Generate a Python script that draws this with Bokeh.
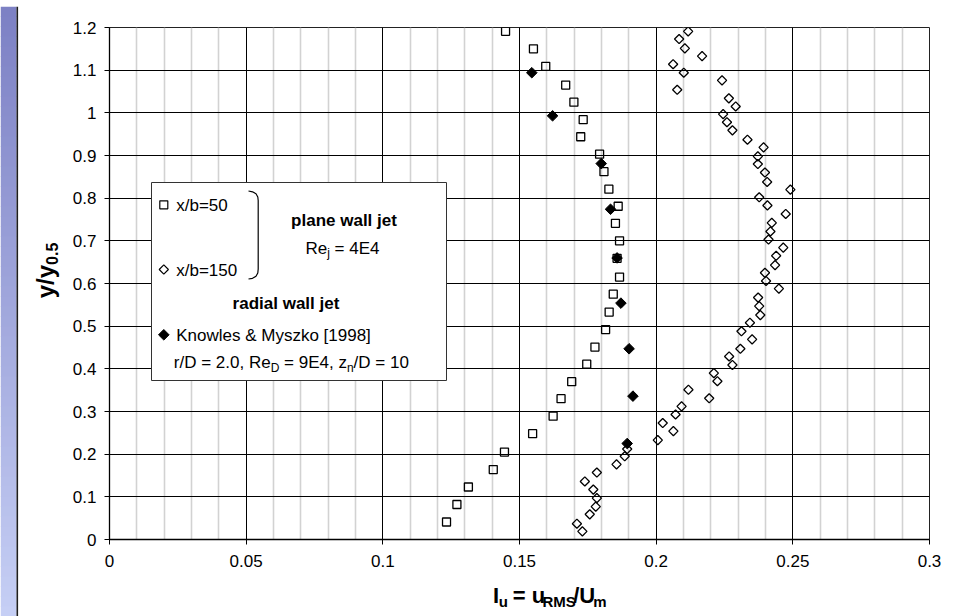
import numpy as np
from bokeh.plotting import figure
from bokeh.models import FixedTicker, Label, Range1d, NumeralTickFormatter
from bokeh.layouts import row, column
from bokeh.embed import file_html
from bokeh.resources import INLINE
from bokeh.core.properties import value

# ---------------- data ----------------
xb50_x = [0.1449, 0.1551, 0.1596, 0.1669, 0.1699, 0.1733, 0.1724, 0.1793, 0.1809, 0.1827,
          0.1861, 0.1851, 0.1866, 0.1857, 0.1866, 0.1843, 0.1828, 0.1815, 0.1776, 0.1746,
          0.1691, 0.1652, 0.1623, 0.1548, 0.1445, 0.1404, 0.1313, 0.1271, 0.1233]
xb50_y = [1.191, 1.150, 1.109, 1.065, 1.025, 0.984, 0.944, 0.903, 0.862, 0.821,
          0.781, 0.741, 0.700, 0.659, 0.615, 0.575, 0.533, 0.492, 0.451, 0.411,
          0.370, 0.330, 0.289, 0.248, 0.205, 0.164, 0.123, 0.082, 0.041]

xb150_x = [0.2117, 0.2084, 0.2105, 0.2168, 0.2062, 0.2101, 0.2241, 0.2077, 0.2266, 0.2291,
           0.2245, 0.2259, 0.2279, 0.2334, 0.2393, 0.2372, 0.2372, 0.2398, 0.2406, 0.2491,
           0.2377, 0.2407, 0.2474, 0.2423, 0.2418, 0.2411, 0.2465, 0.2439, 0.2435, 0.2398,
           0.2402, 0.2449, 0.2373, 0.2377, 0.2381, 0.2343, 0.2312, 0.2351, 0.2308, 0.2267,
           0.2279, 0.2211, 0.2224, 0.2118, 0.2194, 0.2093, 0.2071, 0.2024, 0.2063, 0.2006,
           0.1894, 0.1885, 0.1855, 0.1783, 0.1739, 0.1770, 0.1783, 0.1779, 0.1757, 0.1710,
           0.1730]
xb150_y = [1.191, 1.173, 1.151, 1.133, 1.114, 1.094, 1.076, 1.054, 1.034, 1.015,
           0.997, 0.978, 0.959, 0.937, 0.919, 0.898, 0.880, 0.860, 0.838, 0.820,
           0.802, 0.783, 0.763, 0.742, 0.722, 0.703, 0.684, 0.665, 0.643, 0.625,
           0.606, 0.588, 0.567, 0.547, 0.526, 0.508, 0.488, 0.469, 0.447, 0.429,
           0.409, 0.390, 0.371, 0.351, 0.331, 0.312, 0.293, 0.273, 0.254, 0.233,
           0.212, 0.195, 0.176, 0.157, 0.136, 0.117, 0.097, 0.077, 0.059, 0.037,
           0.019]

knowles_x = [0.1545, 0.1621, 0.1799, 0.1833, 0.1857, 0.1871, 0.1901, 0.1915, 0.1894]
knowles_y = [1.094, 0.993, 0.881, 0.774, 0.660, 0.554, 0.447, 0.336, 0.225]

x_ticks = [0, 0.05, 0.1, 0.15, 0.2, 0.25, 0.3]
x_tick_labels = ["0", "0.05", "0.1", "0.15", "0.2", "0.25", "0.3"]
x_minor_ticks = [0.01, 0.02, 0.03, 0.04, 0.06, 0.07, 0.08, 0.09, 0.11, 0.12, 0.13, 0.14,
                 0.16, 0.17, 0.18, 0.19, 0.21, 0.22, 0.23, 0.24, 0.26, 0.27, 0.28, 0.29]
y_ticks = [0, 0.1, 0.2, 0.3, 0.4, 0.5, 0.6, 0.7, 0.8, 0.9, 1.0, 1.1, 1.2]
y_tick_labels = ["0", "0.1", "0.2", "0.3", "0.4", "0.5", "0.6", "0.7", "0.8", "0.9", "1", "1.1", "1.2"]

legend_x50 = "x/b=50"
legend_x150 = "x/b=150"
legend_plane = "plane wall jet"
legend_radial = "radial wall jet"
legend_knowles = "Knowles & Myszko [1998]"
legend_re_parts = [("Re", False), ("j", True), (" = 4E4", False)]
legend_cond_parts = [("r/D = 2.0, Re", False), ("D", True), (" = 9E4, z", False),
                     ("n", True), ("/D = 10", False)]
x_title_parts = [("I", False), ("u", True), (" = u", False), ("RMS", True), ("/U", False), ("m", True)]
y_title_parts = [("y/y", False), ("0.5", True)]

# ---------------- layout (page pixels, origin top-left) ----------------
FONT = "Liberation Sans"
X_RANGE = (0, 0.3)
Y_RANGE = (0, 1.2)
TOTAL_W, TOTAL_H = 953, 616
TOP_H = 6                       # purple bar + black border on top
LEFT_W = 60                     # purple strip + y title
P_X0, P_Y0 = LEFT_W, TOP_H      # page position of main figure
P_W = TOTAL_W - LEFT_W
P_H = 569
XT_Y0 = P_Y0 + P_H
XT_H = TOTAL_H - XT_Y0
FRAME_PX_L, FRAME_PX_T = 109, 27
FRAME_W, FRAME_H = 820, 512
B_L = FRAME_PX_L - P_X0
B_T = FRAME_PX_T - P_Y0
B_R = P_W - B_L - FRAME_W
B_B = P_H - B_T - FRAME_H


def sx(px):
    return X_RANGE[0] + (px - FRAME_PX_L) / FRAME_W * (X_RANGE[1] - X_RANGE[0])


def sy(py):
    return Y_RANGE[1] - (py - FRAME_PX_T) / FRAME_H * (Y_RANGE[1] - Y_RANGE[0])


REG_W = {'r': 333, '/': 278, 'D': 722, ' ': 278, '=': 584, '2': 556, '.': 278, '0': 556,
         ',': 278, 'R': 722, 'e': 556, '9': 556, 'E': 667, '4': 556, 'z': 500, 'n': 556,
         '1': 556, 'j': 222}
BOLD_W = {'I': 278, 'u': 611, ' ': 278, '=': 584, 'R': 722, 'M': 833, 'S': 667, '/': 278,
          'U': 722, 'm': 889, 'y': 556, '0': 556, '.': 278, '5': 556}


def tw(text, size, bold):
    table = BOLD_W if bold else REG_W
    return sum(table.get(c, 556) for c in text) * size / 1000.0


def rich(px, parts, size, subsize, bold, draw):
    x = px
    for txt, sub in parts:
        s = subsize if sub else size
        lead = len(txt) - len(txt.lstrip(" "))
        draw(x + tw(" " * lead, s, bold), txt.strip(" "), s, sub)
        x += tw(txt, s, bold)
    return x - px


def helper_fig(w, h):
    f = figure(width=w, height=h, x_range=Range1d(0, w), y_range=Range1d(0, h),
               output_backend="svg", toolbar_location=None,
               x_axis_location=None, y_axis_location=None,
               min_border=0, min_border_left=0, min_border_right=0,
               min_border_top=0, min_border_bottom=0)
    f.outline_line_color = None
    f.background_fill_color = "white"
    f.border_fill_color = "white"
    f.grid.visible = False
    return f


PURPLE_TOP = np.array([124, 128, 196])
PURPLE_BOT = np.array([198, 207, 245])
EDGE = "#1e1e1e"

# ---------------- main figure ----------------
p = figure(width=P_W, height=P_H, x_range=X_RANGE, y_range=Y_RANGE,
           output_backend="svg", toolbar_location=None,
           min_border_left=B_L, min_border_right=B_R, min_border_top=B_T, min_border_bottom=B_B)
p.background_fill_color = "white"
p.border_fill_color = "white"
p.outline_line_color = "#222222"
p.outline_line_width = 1

p.xaxis.ticker = FixedTicker(ticks=x_ticks, minor_ticks=x_minor_ticks)
p.yaxis.ticker = FixedTicker(ticks=y_ticks, minor_ticks=[])
p.xaxis.formatter = NumeralTickFormatter(format="0.[00]")
p.yaxis.formatter = NumeralTickFormatter(format="0.[0]")
p.xaxis.major_label_overrides = dict(zip(x_ticks, x_tick_labels))
p.yaxis.major_label_overrides = dict(zip(y_ticks, y_tick_labels))
for ax in (p.xaxis, p.yaxis):
    ax.axis_line_color = "black"
    ax.axis_line_width = 1.3
    ax.major_tick_line_color = "black"
    ax.major_tick_out = 5
    ax.major_tick_in = 0
    ax.minor_tick_line_color = None
    ax.major_label_text_font = FONT
    ax.major_label_text_font_size = "17px"
    ax.major_label_text_color = "black"
p.xaxis.major_label_standoff = 10
p.yaxis.major_label_standoff = 8

p.xgrid.grid_line_color = "black"
p.xgrid.grid_line_width = 1
p.xgrid.minor_grid_line_color = "#d2d2d2"
p.xgrid.minor_grid_line_width = 1.6
p.ygrid.grid_line_color = "black"
p.ygrid.grid_line_width = 1

# series
p.scatter(xb50_x, xb50_y, marker="square", size=8, fill_color=None,
          line_color="black", line_width=1.3)
p.scatter(xb150_x, xb150_y, marker="square", angle=np.pi / 4, size=6.5, fill_color=None,
          line_color="black", line_width=1.3)
p.scatter(knowles_x, knowles_y, marker="square", angle=np.pi / 4, size=7.5,
          fill_color="black", line_color="black", line_width=1)

# legend box
p.quad(left=[sx(151)], right=[sx(446)], top=[sy(182)], bottom=[sy(380)],
       fill_color="white", line_color="#333333", line_width=1)
p.scatter([sx(163.3)], [sy(204.3)], marker="square", size=8, fill_color=None,
          line_color="black", line_width=1.2)
p.scatter([sx(163.3)], [sy(269)], marker="square", angle=np.pi / 4, size=6.5, fill_color=None,
          line_color="black", line_width=1.2)
p.scatter([sx(163.3)], [sy(334.3)], marker="square", angle=np.pi / 4, size=7.5,
          fill_color="black", line_color="black")

br_px = [248, 252, 255.5, 257.3, 257.7, 257.7, 257.3, 255.5, 252, 248]
br_py = [190.5, 191.3, 193.3, 196.5, 200, 268.5, 272.5, 275.8, 277.8, 278.5]
p.line([sx(v) for v in br_px], [sy(v) for v in br_py], line_color="black", line_width=1.2)


def add_label(px, py, text, size, bold=False, align="left"):
    p.add_layout(Label(x=sx(px), y=sy(py), text=text, text_font=FONT,
                       text_font_size=f"{size}px",
                       text_font_style="bold" if bold else "normal",
                       text_align=align, text_baseline="middle", text_color="black"))


LEG = 17
add_label(175.7, 204.5, legend_x50, LEG)
add_label(175.7, 269.5, legend_x150, LEG)
add_label(343.5, 220, legend_plane, LEG, bold=True, align="center")
rich(305, legend_re_parts, LEG, 12, False,
     lambda x, t, s, sub: add_label(x, 247.5 + (5 if sub else 0), t, s))
add_label(285.5, 302.5, legend_radial, LEG, bold=True, align="center")
add_label(175.7, 334.5, legend_knowles, LEG)
rich(173.3, legend_cond_parts, LEG, 12, False,
     lambda x, t, s, sub: add_label(x, 362 + (5 if sub else 0), t, s))

# ---------------- x-title figure (below main) ----------------
xf = helper_fig(P_W, XT_H)
XTS, XTSS = 22, 15


def xt_draw(x, t, s, sub):
    base = 601 if sub else 595
    xf.text(x=[x - P_X0], y=[XT_H - (base - XT_Y0)], text=[t],
            text_font=value(FONT), text_font_size=f"{s}px", text_font_style="bold",
            text_align="left", text_baseline="alphabetic", text_color="black")


xtotal = sum(tw(t, XTSS if s else XTS, True) for t, s in x_title_parts)
rich(539 - xtotal / 2, x_title_parts, XTS, XTSS, True, xt_draw)

# ---------------- top bar ----------------
tf = helper_fig(TOTAL_W, TOP_H)
tf.quad(left=[0], right=[TOTAL_W], top=[TOP_H], bottom=[0],
        fill_color="#%02x%02x%02x" % tuple(PURPLE_TOP), line_color=None)
tf.quad(left=[16], right=[TOTAL_W], top=[1.6], bottom=[0], fill_color=EDGE, line_color=None)

# ---------------- left figure: purple strip + y title ----------------
LF_H = TOTAL_H - TOP_H
lf = helper_fig(LEFT_W, LF_H)
n_bands = 61
band_h = LF_H / n_bands
b_top = [LF_H - i * band_h for i in range(n_bands)]
b_bot = [LF_H - (i + 1) * band_h - 0.6 for i in range(n_bands)]
b_col = ["#%02x%02x%02x" % tuple(int(v) for v in
                                 (PURPLE_TOP + (PURPLE_BOT - PURPLE_TOP) * (i + 1) / n_bands))
         for i in range(n_bands)]
lf.quad(left=0, right=16, top=b_top, bottom=b_bot, fill_color=b_col, line_color=None)
lf.quad(left=[16], right=[17.6], top=[LF_H], bottom=[0], fill_color=EDGE, line_color=None)

YTS, YTSS = 24, 16
ytotal = sum(tw(t, YTSS if s else YTS, True) for t, s in y_title_parts)
Y_MID = 270


def yt_draw(off, t, s, sub):
    page_x = 51 if sub else 45
    page_y = Y_MID + ytotal / 2 - off
    lf.text(x=[page_x], y=[LF_H - (page_y - TOP_H)], text=[t], angle=np.pi / 2,
            text_font=value(FONT), text_font_size=f"{s}px", text_font_style="bold",
            text_align="left", text_baseline="middle", text_color="black")


rich(0, y_title_parts, YTS, YTSS, True, yt_draw)

layout = column(tf, row(lf, column(p, xf, spacing=0), spacing=0), spacing=0)
open("out.html", "w").write(file_html(layout, INLINE))
